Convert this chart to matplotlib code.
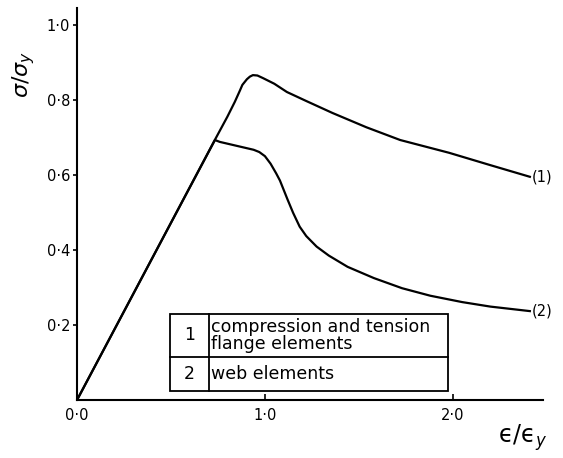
import matplotlib
matplotlib.use("Agg")
import matplotlib.pyplot as plt
from matplotlib.patches import Rectangle

# Data
curve1_x = [0, 0.73, 0.80, 0.84, 0.867, 0.88, 0.904, 0.92, 0.936, 0.96, 0.99, 1.05, 1.117,
            1.22, 1.36, 1.54, 1.72, 1.98, 2.2, 2.41]
curve1_y = [0, 0.69, 0.755, 0.795, 0.825, 0.84, 0.855, 0.862, 0.866, 0.865, 0.858, 0.843, 0.821,
            0.797, 0.765, 0.727, 0.693, 0.659, 0.626, 0.595]

curve2_x = [0, 0.734, 0.76, 0.94, 0.97, 1.0, 1.03, 1.06, 1.08, 1.12, 1.15, 1.185, 1.22, 1.275,
            1.34, 1.44, 1.58, 1.73, 1.88, 2.05, 2.2, 2.41]
curve2_y = [0, 0.693, 0.688, 0.667, 0.661, 0.65, 0.63, 0.604, 0.585, 0.535, 0.499, 0.462, 0.437,
            0.409, 0.385, 0.355, 0.325, 0.298, 0.278, 0.261, 0.249, 0.237]

x_ticks = [0.0, 1.0, 2.0]
x_tick_labels = ["0·0", "1·0", "2·0"]
y_ticks = [0.2, 0.4, 0.6, 0.8, 1.0]
y_tick_labels = ["0·2", "0·4", "0·6", "0·8", "1·0"]

curve_labels = ["(1)", "(2)"]
table_keys = ["1", "2"]
table_texts = ["compression and tension\nflange elements", "web elements"]

fig = plt.figure(figsize=(5.63, 4.58), dpi=100)
ax = fig.add_axes([0.1368, 0.1266, 0.8277, 0.856])
ax.set_xlim(0, 2.48)
ax.set_ylim(0, 1.045)

for s in ["top", "right"]:
    ax.spines[s].set_visible(False)
for s in ["left", "bottom"]:
    ax.spines[s].set_linewidth(1.5)

ax.plot(curve1_x, curve1_y, color="black", lw=1.6, solid_joinstyle="round")
ax.plot(curve2_x, curve2_y, color="black", lw=1.6, solid_joinstyle="round")

fs = 10.5
ax.text(curve1_x[-1] + 0.01, curve1_y[-1], curve_labels[0], ha="left", va="center", fontsize=fs)
ax.text(curve2_x[-1] + 0.01, curve2_y[-1], curve_labels[1], ha="left", va="center", fontsize=fs)

ax.set_xticks(x_ticks)
ax.set_xticklabels(x_tick_labels, fontsize=fs)
ax.set_yticks(y_ticks)
ax.set_yticklabels(y_tick_labels, fontsize=fs)
ax.tick_params(axis="x", direction="in", length=4, width=1.2, pad=6)
ax.tick_params(axis="y", direction="out", length=3, width=1.2, pad=2)

ax.set_ylabel(r"$\sigma/\sigma_y$", fontsize=16, rotation=90, labelpad=2)
ax.yaxis.set_label_coords(-0.085, 0.83)
ax.text(2.37, -0.1, "ϵ/ϵ$_y$", fontsize=17, ha="center", va="center",
        clip_on=False)

# Key table
x0, xd, x1 = 0.495, 0.70, 1.973
y0, ym, y1 = 0.024, 0.115, 0.229
tfs = 12.5
ax.add_patch(Rectangle((x0, y0), x1 - x0, y1 - y0, fill=False, lw=1.3, color="black"))
ax.plot([xd, xd], [y0, y1], color="black", lw=1.3)
ax.plot([x0, x1], [ym, ym], color="black", lw=1.3)
ax.text((x0 + xd) / 2, (ym + y1) / 2, table_keys[0], ha="center", va="center", fontsize=tfs)
ax.text((x0 + xd) / 2, (y0 + ym) / 2, table_keys[1], ha="center", va="center", fontsize=tfs)
ax.text(xd + 0.012, (ym + y1) / 2, table_texts[0], ha="left", va="center", fontsize=tfs,
        linespacing=0.9)
ax.text(xd + 0.012, (y0 + ym) / 2, table_texts[1], ha="left", va="center", fontsize=tfs)

fig.savefig("out.png", dpi=100)
